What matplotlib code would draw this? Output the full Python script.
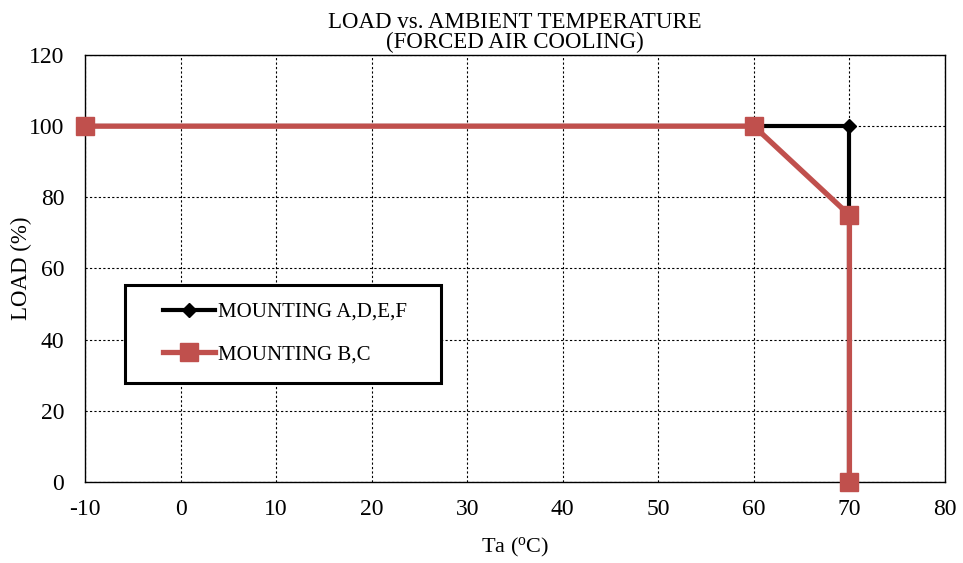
import matplotlib
matplotlib.use('Agg')
import matplotlib.pyplot as plt
from matplotlib.patches import Rectangle

plt.rcParams.update({
    'font.family': ['Liberation Serif', 'DejaVu Serif'],
    'mathtext.fontset': 'custom',
    'mathtext.rm': 'Liberation Serif',
    'mathtext.default': 'regular',
    'axes.unicode_minus': False,
})

# ── data
ta_adef = [-10, 60, 70, 70]
load_adef = [100, 100, 100, 0]
ta_bc = [-10, 60, 70, 70]
load_bc = [100, 100, 75, 0]

x_ticks = list(range(-10, 81, 10))
y_ticks = list(range(0, 121, 20))

RED = '#c0504d'

fig = plt.figure(figsize=(9.63, 5.63), dpi=100)
ax = fig.add_axes([0.0883, 0.1439, 0.893, 0.7584])

ax.plot(ta_adef, load_adef, color='black', lw=3.0, marker='D', ms=7,
        label='MOUNTING A,D,E,F', zorder=3, clip_on=False)
ax.plot(ta_bc, load_bc, color=RED, lw=3.8, marker='s', ms=13,
        label='MOUNTING B,C', zorder=4, clip_on=False)

ax.set_xlim(-10, 80)
ax.set_ylim(0, 120)
ax.set_xticks(x_ticks)
ax.set_yticks(y_ticks)
ax.tick_params(axis='both', length=0, labelsize=17)
ax.tick_params(axis='y', pad=15)
ax.tick_params(axis='x', pad=12)
ax.grid(True, color='black', ls=(0, (2, 2)), lw=0.8)
for s in ax.spines.values():
    s.set_color('black')
    s.set_linewidth(1.0)

ax.set_title('LOAD vs. AMBIENT TEMPERATURE\n(FORCED AIR COOLING)',
             fontsize=16.5, linespacing=0.95, pad=5)
ax.set_xlabel(r'Ta ($^{o}$C)', fontsize=16, labelpad=12)
ax.set_ylabel('LOAD (%)', fontsize=16.5, va='center')
ax.yaxis.set_label_coords(-0.0744, 0.5)

# legend box drawn by hand, legend entries placed inside it
box = Rectangle((0.0465, 0.232), 0.367, 0.229, transform=ax.transAxes,
                facecolor='white', edgecolor='black', lw=2.2, zorder=5)
ax.add_patch(box)
leg = ax.legend(loc='center left', bbox_to_anchor=(0.0907, 0.348),
                fontsize=15, frameon=False, handlelength=2.5,
                handletextpad=0.15, labelspacing=1.1,
                borderpad=0, borderaxespad=0)
leg.set_zorder(6)

fig.savefig('out.png', dpi=100)
